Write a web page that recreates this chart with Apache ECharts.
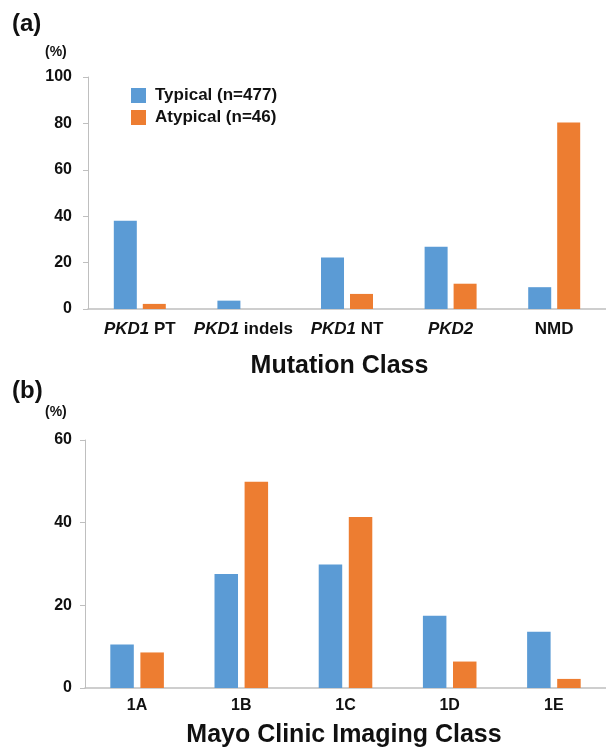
<!DOCTYPE html>
<html>
<head>
<meta charset="utf-8">
<script src="https://cdn.jsdelivr.net/npm/echarts@6/dist/echarts.min.js"></script>
<style>
html,body{margin:0;padding:0;background:#fff;}
#chart{width:606px;height:749px;}
</style>
</head>
<body>
<div id="chart"></div>
<script>
var mutationClasses = ['PKD1 PT', 'PKD1 indels', 'PKD1 NT', 'PKD2', 'NMD'];
var mutationTypical = [38.0, 3.6, 22.2, 26.8, 9.4];
var mutationAtypical = [2.2, 0, 6.5, 10.9, 80.4];

var imagingClasses = ['1A', '1B', '1C', '1D', '1E'];
var imagingTypical = [10.5, 27.6, 29.9, 17.5, 13.6];
var imagingAtypical = [8.6, 49.9, 41.4, 6.4, 2.2];

var seriesNames = ['Typical (n=477)', 'Atypical (n=46)'];
var colors = ['#5B9BD5', '#ED7D31'];

var FONT = '"Liberation Sans", Arial, sans-serif';
var axisGray = '#bfbfbf';

var chart = echarts.init(document.getElementById('chart'));

function yAxisCfg(gridIndex, max, margin) {
  return {
    type: 'value', gridIndex: gridIndex, min: 0, max: max, interval: 20,
    axisLine: {show: true, lineStyle: {color: axisGray, width: 1}},
    axisTick: {show: true, length: 5, lineStyle: {color: axisGray}},
    splitLine: {show: false},
    axisLabel: {color: '#111', fontFamily: FONT, fontWeight: 'bold', fontSize: 16, margin: margin}
  };
}

var option = {
  backgroundColor: '#fff',
  animation: false,
  color: colors,
  textStyle: {fontFamily: FONT},
  legend: {
    data: seriesNames,
    orient: 'vertical',
    left: 126, top: 82,
    itemWidth: 15, itemHeight: 15, itemGap: 5,
    icon: 'rect',
    textStyle: {color: '#111', fontFamily: FONT, fontWeight: 'bold', fontSize: 17, padding: [0, 0, 0, 4]}
  },
  graphic: [
    {type: 'text', left: 12, top: 12, style: {text: '(a)', font: 'bold 24px ' + FONT, fill: '#111'}},
    {type: 'text', left: 45, top: 45, style: {text: '(%)', font: 'bold 14px ' + FONT, fill: '#111'}},
    {type: 'text', left: 12, top: 379, style: {text: '(b)', font: 'bold 24px ' + FONT, fill: '#111'}},
    {type: 'text', left: 45, top: 405, style: {text: '(%)', font: 'bold 14px ' + FONT, fill: '#111'}}
  ],
  grid: [
    {left: 88, top: 77, width: 523, height: 232, containLabel: false},
    {left: 85, top: 440, width: 527, height: 253, containLabel: false}
  ],
  xAxis: [
    {
      type: 'category', gridIndex: 0, data: mutationClasses,
      axisLine: {show: true, lineStyle: {color: axisGray, width: 1.5}},
      axisTick: {show: false},
      axisLabel: {
        interval: 0,
        color: '#111', fontFamily: FONT, fontWeight: 'bold', fontSize: 17, margin: 12,
        formatter: function (v) { return v.replace(/PKD[12]/, function (m) { return '{i|' + m + '}'; }); },
        rich: {i: {fontStyle: 'italic', fontWeight: 'bold', fontSize: 17, fontFamily: FONT, color: '#111'}}
      },
      name: 'Mutation Class', nameLocation: 'middle', nameGap: 45,
      nameTextStyle: {color: '#111', fontFamily: FONT, fontWeight: 'bold', fontSize: 25, padding: [0, 15, 0, 0]}
    },
    {
      type: 'category', gridIndex: 1, data: imagingClasses,
      axisLine: {show: true, lineStyle: {color: axisGray, width: 1.5}},
      axisTick: {show: false},
      axisLabel: {interval: 0, color: '#111', fontFamily: FONT, fontWeight: 'bold', fontSize: 16, margin: 10},
      name: 'Mayo Clinic Imaging Class', nameLocation: 'middle', nameGap: 35,
      nameTextStyle: {color: '#111', fontFamily: FONT, fontWeight: 'bold', fontSize: 25, padding: [0, 3, 0, 0]}
    }
  ],
  yAxis: [yAxisCfg(0, 100, 16), yAxisCfg(1, 60, 13)],
  series: [
    {name: seriesNames[0], type: 'bar', xAxisIndex: 0, yAxisIndex: 0, data: mutationTypical, barWidth: 23, barGap: '26%', itemStyle: {color: colors[0]}},
    {name: seriesNames[1], type: 'bar', xAxisIndex: 0, yAxisIndex: 0, data: mutationAtypical, barWidth: 23, barGap: '26%', itemStyle: {color: colors[1]}},
    {name: seriesNames[0], type: 'bar', xAxisIndex: 1, yAxisIndex: 1, data: imagingTypical, barWidth: 23.5, barGap: '28%', itemStyle: {color: colors[0]}},
    {name: seriesNames[1], type: 'bar', xAxisIndex: 1, yAxisIndex: 1, data: imagingAtypical, barWidth: 23.5, barGap: '28%', itemStyle: {color: colors[1]}}
  ]
};
chart.setOption(option);
</script>
</body>
</html>
